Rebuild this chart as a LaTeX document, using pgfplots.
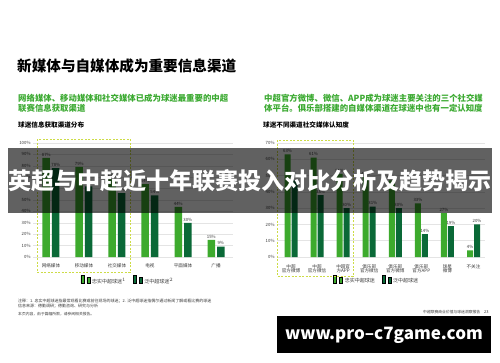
\documentclass[border=0pt]{standalone}
\usepackage{fontspec}
\setmainfont{Noto Sans CJK SC}
\usepackage{pgfplots}
\pgfplotsset{compat=1.18}
\definecolor{lg}{RGB}{61,170,45}
\definecolor{dg}{RGB}{10,105,55}
\definecolor{subg}{RGB}{60,170,50}
\definecolor{dashc}{RGB}{205,220,70}
\definecolor{gridc}{RGB}{228,228,228}
\definecolor{txt}{RGB}{60,60,60}
\newcommand{\fs}[1]{\fontsize{#1}{#1}\selectfont}
\pgfplotsset{
  slide/.style={
    scale only axis, anchor=south west,
    ybar, ymin=0,
    axis line style={draw=none}, tick style={draw=none},
    ymajorgrids, grid style={gridc, line width=0.5pt},
    /pgf/number format/assume math mode=true,
    yticklabel={\pgfmathprintnumber{\tick}\%},
    yticklabel style={font=\fs{4.3}, text=txt, xshift=1pt},
    xticklabel style={font=\fs{4.6}, text=txt, align=center, yshift=1pt},
    xtick=data,
    nodes near coords={\pgfmathprintnumber{\pgfplotspointmeta}\%},
    every node near coord/.append style={font=\fs{4.3}, text=txt, inner sep=1.5pt},
    legend style={draw=none, fill=none, font=\fs{5}, text=txt, legend columns=2,
      /tikz/every even column/.append style={column sep=5pt}},
    legend image code/.code={\fill[##1] (0pt,-1.4pt) rectangle (2.8pt,1.4pt);},
  }
}
\begin{document}
\begin{tikzpicture}[x=1pt,y=-1pt]
\useasboundingbox (0,0) rectangle (500,362);
\fill[white] (0,0) rectangle (500,362);

% titles
\node[anchor=base west, inner sep=0, font=\fs{14.6}\bfseries] at (17,71.5) {新媒体与自媒体成为重要信息渠道};
\node[anchor=base west, inner sep=0, font=\fs{8.4}\bfseries, text=subg] at (18,101.8) {网络媒体、移动媒体和社交媒体已成为球迷最重要的中超};
\node[anchor=base west, inner sep=0, font=\fs{8.4}\bfseries, text=subg] at (18,111.8) {联赛信息获取渠道};
\node[anchor=base west, inner sep=0, font=\fs{6.6}\bfseries] at (18,127) {球迷信息获取渠道分布};
\node[anchor=base west, inner sep=0, font=\fs{8.4}\bfseries, text=subg] at (264,101.5) {中超官方微博、微信、APP成为球迷主要关注的三个社交媒};
\node[anchor=base west, inner sep=0, font=\fs{8.4}\bfseries, text=subg] at (264,111.3) {体平台。俱乐部搭建的自媒体渠道在球迷中也有一定认知度};
\node[anchor=base west, inner sep=0, font=\fs{6.6}\bfseries] at (263,127) {球迷不同渠道社交媒体认知度};

% left chart
\begin{axis}[slide, at={(33pt,-257pt)}, width=200pt, height=114pt,
  xmin=-0.545, xmax=5.515, ymax=100, ytick={0,10,...,100},
  bar width=7.5pt, ybar=2pt,
  xticklabels={网络媒体,移动媒体,社交媒体,电视,平面媒体,广播},
  legend style={at={(0.475,-0.21)}, anchor=center}]
\addplot[fill=lg, draw=none] coordinates {(0,87) (1,79) (2,68) (3,64) (4,44) (5,15)};
\addplot[fill=dg, draw=none] coordinates {(0,78) (1,62) (2,56) (3,54) (4,30) (5,9)};
\legend{忠实中超球迷$^1$, 泛中超球迷$^2$}
\end{axis}

% right chart
\begin{axis}[slide, at={(277pt,-257pt)}, width=208pt, height=114pt,
  xmin=-0.537, xmax=7.44, ymax=70, ytick={0,10,...,70},
  bar width=6pt, ybar=1pt,
  xticklabels={{中超\\官方微博},{中超\\官方微信},{中超官\\方APP},{俱乐部\\官方微信},{俱乐部\\官方微博},{俱乐部\\官方APP},{球星\\微博},{不关注}},
  xticklabel style={yshift=-0.5pt},
  legend style={at={(0.48,-0.21)}, anchor=center}]
\addplot[fill=lg, draw=none] coordinates {(0,63) (1,61) (2,51) (3,49) (4,47) (5,33) (6,27) (7,4)};
\addplot[fill=dg, draw=none] coordinates {(0,47) (1,38) (2,30) (3,31) (4,30) (5,14) (6,19) (7,20)};
\legend{忠实中超球迷, 泛中超球迷}
\end{axis}

% dashed frames
\draw[dashc, dash pattern=on 2pt off 1.5pt, line width=0.6pt] (37,139) rectangle (130,272);
\draw[dashc, dash pattern=on 2pt off 1.5pt, line width=0.6pt] (277,140) rectangle (353,276);

% footnotes
\node[anchor=base west, inner sep=0, font=\fs{4}, text=txt] at (18,302) {注释：1. 忠实中超球迷指最常观看比赛或前往现场的球迷；2. 泛中超球迷指偶尔通过新闻了解或看比赛的球迷};
\node[anchor=base west, inner sep=0, font=\fs{4}, text=txt] at (18,307) {信息来源：德勤调研；德勤咨询、研究与分析};
\node[anchor=base west, inner sep=0, font=\fs{3.8}, text=txt] at (18,315) {本页内容，由于篇幅所限，请参阅相关报告。};
\node[anchor=base west, inner sep=0, font=\fs{3.8}, text=txt] at (423,313) {中超联赛商业价值与球迷洞察报告};
\node[anchor=base west, inner sep=0, font=\fs{4}, text=txt] at (484,313) {23};

% banner overlay
\fill[black, opacity=0.62] (8,148) rectangle (492,213);
\node[font=\fs{23}\bfseries, text=white, inner sep=0] at (250,181) {英超与中超近十年联赛投入对比分析及趋势揭示};

% watermark
\fill[black] (277,316) rectangle (491,353);
\node[font=\fs{17}\bfseries, text=white, inner sep=0] at (384,335) {www.pro--c7game.com};
\end{tikzpicture}
\end{document}
